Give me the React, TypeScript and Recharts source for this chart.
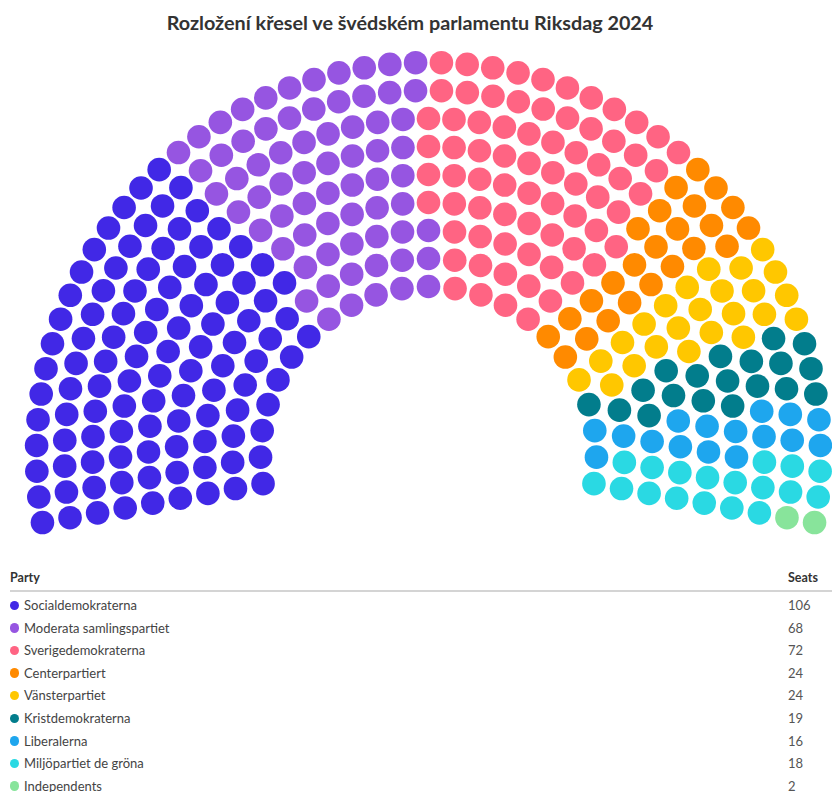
import { ScatterChart, Scatter, XAxis, YAxis } from 'recharts';

const parties = [
  'Socialdemokraterna',
  'Moderata samlingspartiet',
  'Sverigedemokraterna',
  'Centerpartiert',
  'Vänsterpartiet',
  'Kristdemokraterna',
  'Liberalerna',
  'Miljöpartiet de gröna',
  'Independents',
];
const seats = [106, 68, 72, 24, 24, 19, 16, 18, 2];
const colors = [
  '#4128e6',
  '#9655e1',
  '#ff6483',
  '#ff8a00',
  '#ffc700',
  '#027d8c',
  '#1ea6ee',
  '#2ad9e3',
  '#88e49b',
];

// hemicycle geometry (px)
const ROWS = 9;
const INNER_R = 168;
const OUTER_R = 392;
const ARC = 200;
const DOT_R = 11.8;

// seats per row proportional to row radius, then sorted by angle and handed out party by party
const buildSeats = () => {
  const total = seats.reduce((a, b) => a + b, 0);
  const radii = Array.from({ length: ROWS }, (_, i) => INNER_R + ((OUTER_R - INNER_R) * i) / (ROWS - 1));
  const sumR = radii.reduce((a, b) => a + b, 0);
  const exact = radii.map((r) => (total * r) / sumR);
  const counts = exact.map((v) => Math.floor(v));
  const left = total - counts.reduce((a, b) => a + b, 0);
  const order = exact.map((v, i) => [v - Math.floor(v), i]).sort((a, b) => b[0] - a[0]);
  for (let k = 0; k < left; k++) counts[order[k][1]]++;

  const all: { t: number; r: number }[] = [];
  radii.forEach((r, i) => {
    const n = counts[i];
    for (let j = 0; j < n; j++) all.push({ t: j / (n - 1), r });
  });
  all.sort((a, b) => a.t - b.t || a.r - b.r);

  const start = 90 + ARC / 2;
  const groups: { x: number; y: number }[][] = seats.map(() => []);
  let p = 0;
  let used = 0;
  all.forEach((s) => {
    while (used >= seats[p]) {
      p++;
      used = 0;
    }
    const a = ((start - s.t * ARC) * Math.PI) / 180;
    groups[p].push({ x: s.r * Math.cos(a), y: s.r * Math.sin(a) });
    used++;
  });
  return groups;
};

const seatGroups = buildSeats();

const font = 'Lato, "Open Sans", sans-serif';

const App = () => {
  return (
    <div style={{ position: 'relative', width: 832, height: 792, fontFamily: font, color: '#333', overflow: 'hidden' }}>
      <style>{`body{margin:0}`}</style>
      <div
        style={{
          position: 'absolute',
          top: 9,
          left: 0,
          width: 820,
          textAlign: 'center',
          fontSize: 19.8,
          fontWeight: 700,
          lineHeight: '26px',
          color: '#333',
        }}
      >
        Rozložení křesel ve švédském parlamentu Riksdag 2024
      </div>

      <div style={{ position: 'absolute', top: 40, left: 0 }}>
        <ScatterChart width={832} height={505} margin={{ top: 0, right: 0, bottom: 0, left: 0 }}>
          <XAxis type="number" dataKey="x" domain={[-428.5, 403.5]} allowDataOverflow hide />
          <YAxis type="number" dataKey="y" domain={[-90.5, 414.5]} allowDataOverflow hide />
          {seatGroups.map((g, i) => (
            <Scatter
              key={parties[i]}
              name={parties[i]}
              data={g}
              fill={colors[i]}
              isAnimationActive={false}
              shape={(props: any) => <circle cx={props.cx} cy={props.cy} r={DOT_R} fill={colors[i]} />}
            />
          ))}
        </ScatterChart>
      </div>

      {/* legend table */}
      <div style={{ position: 'absolute', top: 568, left: 10, fontSize: 12.5, fontWeight: 700, lineHeight: '20px' }}>Party</div>
      <div style={{ position: 'absolute', top: 568, left: 788, fontSize: 12.5, fontWeight: 700, lineHeight: '20px' }}>Seats</div>
      <div style={{ position: 'absolute', top: 590, left: 10, width: 822, height: 2, background: '#d4d4d4' }} />
      {parties.map((name, i) => (
        <div key={name} style={{ position: 'absolute', top: 594 + i * 22.6, left: 0, width: 832, height: 22, fontSize: 13, lineHeight: '22px', color: '#444' }}>
          <span
            style={{
              position: 'absolute',
              left: 9.5,
              top: 6.5,
              width: 9.5,
              height: 9.5,
              borderRadius: '50%',
              background: colors[i],
            }}
          />
          <span style={{ position: 'absolute', left: 24 }}>{name}</span>
          <span style={{ position: 'absolute', left: 788, color: '#555' }}>{seats[i]}</span>
        </div>
      ))}
    </div>
  );
};

export default App;
